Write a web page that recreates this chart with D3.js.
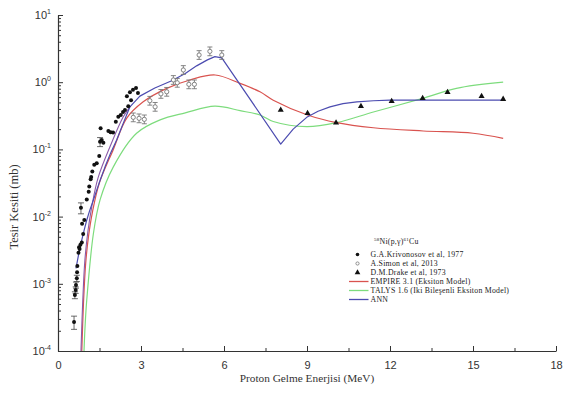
<!DOCTYPE html>
<html><head><meta charset="utf-8">
<script src="https://cdn.jsdelivr.net/npm/d3@7"></script>
<style>body{margin:0;background:#fff}svg{display:block}</style>
</head><body>
<svg id="c" width="565" height="401"></svg>
<script>
// ---- data ----
const xTicks = [0, 3, 6, 9, 12, 15, 18];
const xMinorTicks = [1.5, 4.5, 7.5, 10.5, 13.5, 16.5];
const yExponents = [-4, -3, -2, -1, 0, 1];

// G.A.Krivonosov et al, 1977 (filled circles)
const krivE = [0.58,0.61,0.64,0.65,0.68,0.69,0.70,0.74,0.76,0.78,0.81,0.86,0.91,0.87,0.95,0.83,1.04,1.11,1.13,1.18,1.20,1.24,1.31,1.40,1.49,1.52,1.58,1.64,1.54,1.82,1.90,1.99,2.09,2.18,2.27,2.35,2.42,2.54,2.64,2.49,2.60,2.71,2.82,2.89];
const krivS = [2.7e-4,6.8e-4,8.1e-4,9.6e-4,1.21e-3,1.48e-3,1.84e-3,2.9e-3,3.5e-3,3.3e-3,3.8e-3,4.1e-3,5.5e-3,7.8e-3,8.9e-3,1.35e-2,1.8e-2,2.35e-2,2.8e-2,3.6e-2,3.9e-2,4.7e-2,5.9e-2,6.2e-2,8.0e-2,0.13,0.138,0.126,0.206,0.188,0.18,0.178,0.258,0.307,0.325,0.36,0.386,0.44,0.54,0.62,0.71,0.77,0.82,0.69];
const krivErr = [0.6e-4,0.8e-4,0.9e-4,1.0e-4,1.3e-4,0,0,0,0,0,0,0,0,0,0,0.25e-2,0,0,0,0,0,0,0,0,0,0.02,0,0,0,0,0,0,0,0,0,0,0,0,0,0,0,0,0,0];

// A.Simon et al, 2013 (open circles)
const simonE = [2.72,2.93,3.12,3.32,3.51,3.72,3.93,4.17,4.31,4.53,4.73,4.93,5.10,5.49,5.92];
const simonS = [0.30,0.29,0.28,0.53,0.43,0.67,0.72,1.08,0.98,1.52,0.93,0.93,2.54,2.88,2.54];

// D.M.Drake et al, 1973 (triangles)
const drakeE = [8.05,9.02,10.05,10.95,12.06,13.18,14.08,15.31,16.09];
const drakeS = [0.385,0.344,0.25,0.44,0.52,0.575,0.71,0.62,0.56];

// EMPIRE 3.1 (Eksiton Model)
const empireE = [0.86,0.92,1.0,1.1,1.25,1.5,2.0,2.48,3.08,3.93,4.77,5.68,6.58,7.3,7.78,9.02,10.07,11.4,13.2,15.0,16.09];
const empireS = [1e-4,5e-4,2e-3,5e-3,0.012,0.032,0.1,0.29,0.51,0.81,1.08,1.28,0.96,0.72,0.54,0.325,0.25,0.21,0.188,0.174,0.146];

// TALYS 1.6 (Iki Bileşenli Eksiton Model)
const talysE = [0.94,0.98,1.04,1.28,1.52,2.0,2.84,3.69,4.6,5.67,6.58,7.3,7.78,8.99,10.07,11.4,13.18,14.4,16.09];
const talysS = [1e-4,2.4e-4,5.8e-4,5.6e-3,0.0177,0.055,0.174,0.275,0.35,0.44,0.377,0.325,0.26,0.218,0.25,0.36,0.575,0.81,1.0];

// ANN
const annE = [0.65,0.75,0.86,0.95,1.04,1.15,1.28,1.48,1.70,1.9,2.12,2.35,2.6,2.96,3.5,4.11,4.6,5.01,5.4,5.67,5.92,8.05,8.5,8.99,9.4,9.83,10.3,10.8,11.4,12.0,14.0,16.09];
const annS = [1.7e-3,2.8e-3,4.5e-3,6.4e-3,8.9e-3,0.0125,0.0177,0.031,0.055,0.088,0.138,0.24,0.43,0.62,0.82,1.05,1.35,1.75,2.15,2.4,2.3,0.12,0.2,0.3,0.37,0.43,0.48,0.51,0.53,0.54,0.54,0.54];

// ANN (second branch close to EMPIRE at low energy)
const annLowE = [0.83,0.89,0.97,1.08,1.22,1.45,1.9,2.35,2.6];
const annLowS = [1e-4,5e-4,2.2e-3,6e-3,0.014,0.038,0.115,0.3,0.43];

const legendLabels = ["G.A.Krivonosov et al, 1977","A.Simon et al, 2013","D.M.Drake et al, 1973","EMPIRE 3.1 (Eksiton Model)","TALYS 1.6 (Iki Bileşenli Eksiton Model)","ANN"];

// ---- drawing ----
const svg = d3.select("#c");
const x = d3.scaleLinear().domain([0, 18]).range([58, 556]);
const y = d3.scaleLog().domain([1e-4, 10]).range([351, 15]);

const zip = (a, b) => a.map((v, i) => [v, b[i]]);

// axes
const yMinor = [];
for (let e = -4; e < 1; e++) for (let m = 2; m <= 9; m++) yMinor.push(m * Math.pow(10, e));

svg.append("g").attr("transform", "translate(58,0)")
  .call(d3.axisLeft(y).tickValues(yMinor).tickSize(-3).tickSizeOuter(0).tickFormat(""))
  .call(g => g.select(".domain").remove());

const gy = svg.append("g").attr("transform", "translate(58,0)")
  .call(d3.axisLeft(y).tickValues(yExponents.map(e => Math.pow(10, e))).tickSize(-5).tickSizeOuter(0).tickPadding(11));
gy.selectAll(".tick text").each(function(d) {
  const t = d3.select(this);
  const e = Math.round(Math.log10(d));
  t.text(null).attr("font-family", "Liberation Sans, Arial, sans-serif").attr("font-size", 11).attr("fill", "#333");
  t.append("tspan").text("10");
  t.append("tspan").attr("dy", -5).attr("font-size", 7).text(e);
});
gy.selectAll(".tick text").attr("dx", 4);

svg.append("g").attr("transform", "translate(0,351)")
  .call(d3.axisBottom(x).tickValues(xMinorTicks).tickSize(-3).tickSizeOuter(0).tickFormat(""))
  .call(g => g.select(".domain").remove());
const gx = svg.append("g").attr("transform", "translate(0,351)")
  .call(d3.axisBottom(x).tickValues(xTicks).tickSize(-5).tickSizeOuter(0).tickPadding(10).tickFormat(d3.format("d")));
gx.selectAll(".tick text").attr("font-family", "Liberation Sans, Arial, sans-serif").attr("font-size", 11).attr("fill", "#333");

svg.selectAll(".domain").attr("stroke", "#333").attr("stroke-width", 1.2);
svg.selectAll(".tick line").attr("stroke", "#333");

// axis titles
svg.append("text").attr("x", 307).attr("y", 382).attr("text-anchor", "middle")
  .attr("font-family", "Liberation Serif, Times New Roman, serif").attr("font-size", 11.3).attr("fill", "#333")
  .text("Proton Gelme Enerjisi (MeV)");
svg.append("text").attr("transform", "translate(18,207) rotate(-90)").attr("text-anchor", "middle")
  .attr("font-family", "Liberation Serif, Times New Roman, serif").attr("font-size", 12.5).attr("fill", "#333")
  .text("Tesir Kesiti (mb)");

// lines
const line = d3.line().x(d => x(d[0])).y(d => y(d[1])).curve(d3.curveCatmullRom.alpha(0.5));
const lineLin = d3.line().x(d => x(d[0])).y(d => y(d[1])).curve(d3.curveLinear);

svg.append("path").attr("d", line(zip(talysE, talysS))).attr("fill", "none").attr("stroke", "#7ddc7d").attr("stroke-width", 1.2);
svg.append("path").attr("d", line(zip(empireE, empireS))).attr("fill", "none").attr("stroke", "#d9534f").attr("stroke-width", 1.2);
svg.append("path").attr("d", line(zip(annLowE, annLowS))).attr("fill", "none").attr("stroke", "#8a5aa8").attr("stroke-width", 1.1);
svg.append("path").attr("d", lineLin(zip(annE, annS))).attr("fill", "none").attr("stroke", "#4c4cb0").attr("stroke-width", 1.2).attr("stroke-linejoin", "round");

// Simon error bars + open circles
const simon = zip(simonE, simonS);
const sg = svg.append("g").attr("stroke", "#777").attr("fill", "none").attr("stroke-width", 0.9);
simon.forEach(d => {
  const cx = x(d[0]), lo = y(d[1] * 0.86), hi = y(d[1] * 1.16);
  sg.append("line").attr("x1", cx).attr("x2", cx).attr("y1", lo).attr("y2", hi);
  sg.append("line").attr("x1", cx - 2.5).attr("x2", cx + 2.5).attr("y1", lo).attr("y2", lo);
  sg.append("line").attr("x1", cx - 2.5).attr("x2", cx + 2.5).attr("y1", hi).attr("y2", hi);
});
sg.selectAll("circle.s").data(simon).join("circle").attr("class", "s")
  .attr("cx", d => x(d[0])).attr("cy", d => y(d[1])).attr("r", 2.1).attr("fill", "#fff");

// Krivonosov error bars + filled circles
const kriv = krivE.map((e, i) => [e, krivS[i], krivErr[i]]);
const kg = svg.append("g").attr("stroke", "#444").attr("stroke-width", 0.8);
kriv.filter(d => d[2] > 0).forEach(d => {
  const cx = x(d[0]), lo = y(d[1] - d[2]), hi = y(d[1] + d[2]);
  kg.append("line").attr("x1", cx).attr("x2", cx).attr("y1", lo).attr("y2", hi);
  kg.append("line").attr("x1", cx - 3).attr("x2", cx + 3).attr("y1", lo).attr("y2", lo);
  kg.append("line").attr("x1", cx - 3).attr("x2", cx + 3).attr("y1", hi).attr("y2", hi);
});
svg.append("g").selectAll("circle").data(kriv).join("circle")
  .attr("cx", d => x(d[0])).attr("cy", d => y(d[1])).attr("r", 2.0).attr("fill", "#111");

// Drake triangles
const tri = d3.symbol().type(d3.symbolTriangle).size(16);
svg.append("g").selectAll("path").data(zip(drakeE, drakeS)).join("path")
  .attr("d", tri).attr("transform", d => `translate(${x(d[0])},${y(d[1])})`).attr("fill", "#111");

// legend
const lg = svg.append("g").attr("font-family", "Liberation Serif, Times New Roman, serif").attr("font-size", 7.8).attr("fill", "#222").attr("letter-spacing", 0.25);
const t = lg.append("text").attr("x", 374).attr("y", 244);
t.append("tspan").attr("font-size", 5).attr("dy", -3).text("58");
t.append("tspan").attr("dy", 3).text("Ni(p,γ)");
t.append("tspan").attr("font-size", 5).attr("dy", -3).text("61");
t.append("tspan").attr("dy", 3).text("Cu");

const ly0 = 254.5, ldy = 9;
legendLabels.forEach((lab, i) => {
  lg.append("text").attr("x", 370.5).attr("y", ly0 + i * ldy).attr("dy", "0.33em").text(lab);
});
lg.append("circle").attr("cx", 357.5).attr("cy", ly0).attr("r", 1.8).attr("fill", "#111");
lg.append("circle").attr("cx", 357.5).attr("cy", ly0 + ldy).attr("r", 1.6).attr("fill", "#fff").attr("stroke", "#777").attr("stroke-width", 0.8);
lg.append("path").attr("d", d3.symbol().type(d3.symbolTriangle).size(14)).attr("transform", `translate(357.5,${ly0 + 2 * ldy})`).attr("fill", "#111");
[["#d9534f", 3], ["#7ddc7d", 4], ["#4c4cb0", 5]].forEach(([c, i]) => {
  lg.append("line").attr("x1", 349).attr("x2", 368.5).attr("y1", ly0 + i * ldy).attr("y2", ly0 + i * ldy).attr("stroke", c).attr("stroke-width", 1.3);
});
</script>
</body></html>
